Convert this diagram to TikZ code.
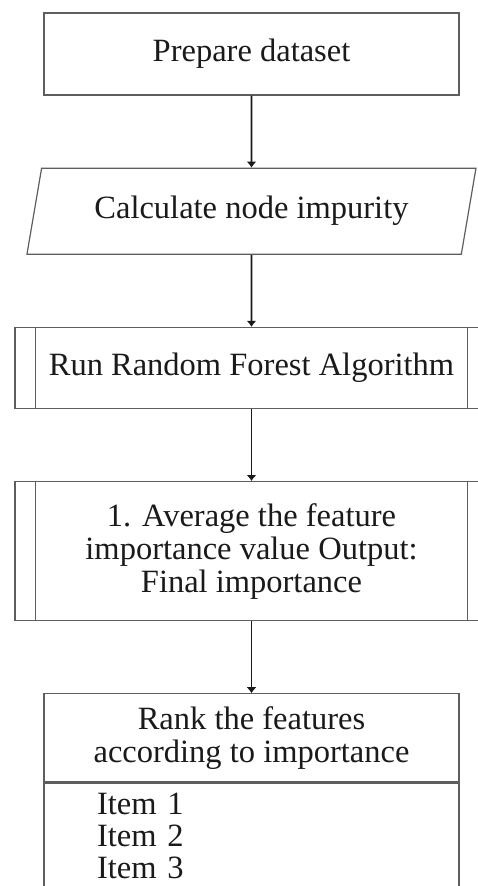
\documentclass[tikz,border=0pt]{standalone}
\usepackage{fontspec}
\setmainfont{Liberation Serif}
\usetikzlibrary{positioning,arrows.meta,shapes.geometric}
\definecolor{boxLine}{HTML}{5E5E5E}
\definecolor{arrowBlack}{HTML}{1A1A1A}
\definecolor{inkBlack}{HTML}{1A1A1A}
\tikzset{
    stepbox/.style={draw=boxLine,fill=white,line width=1.2pt,align=center,
        font=\fontsize{32.5}{33}\selectfont,text=inkBlack,minimum width=415pt},
    iobox/.style={stepbox,trapezium,trapezium left angle=68,trapezium right angle=112,
        trapezium stretches body,minimum width=449pt,minimum height=86pt,inner xsep=0pt},
    procbox/.style={stepbox,minimum width=473pt},
    listbox/.style={stepbox,font=\fontsize{32.5}{32}\selectfont,align=left,
        text width=309pt,inner xsep=53pt,inner ysep=10pt},
    arrow/.style={-{Latex[length=6pt,width=10pt]},draw=arrowBlack,line width=1.8pt}
}
\begin{document}
\begin{tikzpicture}[node distance=72pt]
    \useasboundingbox (0,0) rectangle (478pt,-886pt);
    \node[stepbox,minimum height=82pt] (prep) at (251.5pt,-54pt) {Prepare dataset};
    \node[iobox] (calc) [below=of prep] {Calculate node impurity};
    \node[procbox,minimum height=81pt] (rf) [below=of calc] {Run Random Forest Algorithm};
    \node[procbox,minimum height=139pt] (avg) [below=of rf] {
        1. Average the feature\\
        importance value Output:\\
        Final importance};
    \node[stepbox,minimum height=88pt] (rank) [below=of avg] {
        Rank the features\\
        according to importance};
    \node[listbox] (items) [below=0pt of rank] {
        Item 1\\
        Item 2\\
        Item 3};
    % double side lines of the predefined process boxes
    \foreach \p in {rf,avg} {
        \draw[boxLine,line width=1.2pt] ([xshift=21pt]\p.north west) -- ([xshift=21pt]\p.south west);
        \draw[boxLine,line width=1.2pt] ([xshift=-21pt]\p.north east) -- ([xshift=-21pt]\p.south east);
    }
    \draw[arrow] (prep) -- (calc);
    \draw[arrow] (calc) -- (rf);
    \draw[arrow] (rf) -- (avg);
    \draw[arrow] (avg) -- (rank);
\end{tikzpicture}
\end{document}
